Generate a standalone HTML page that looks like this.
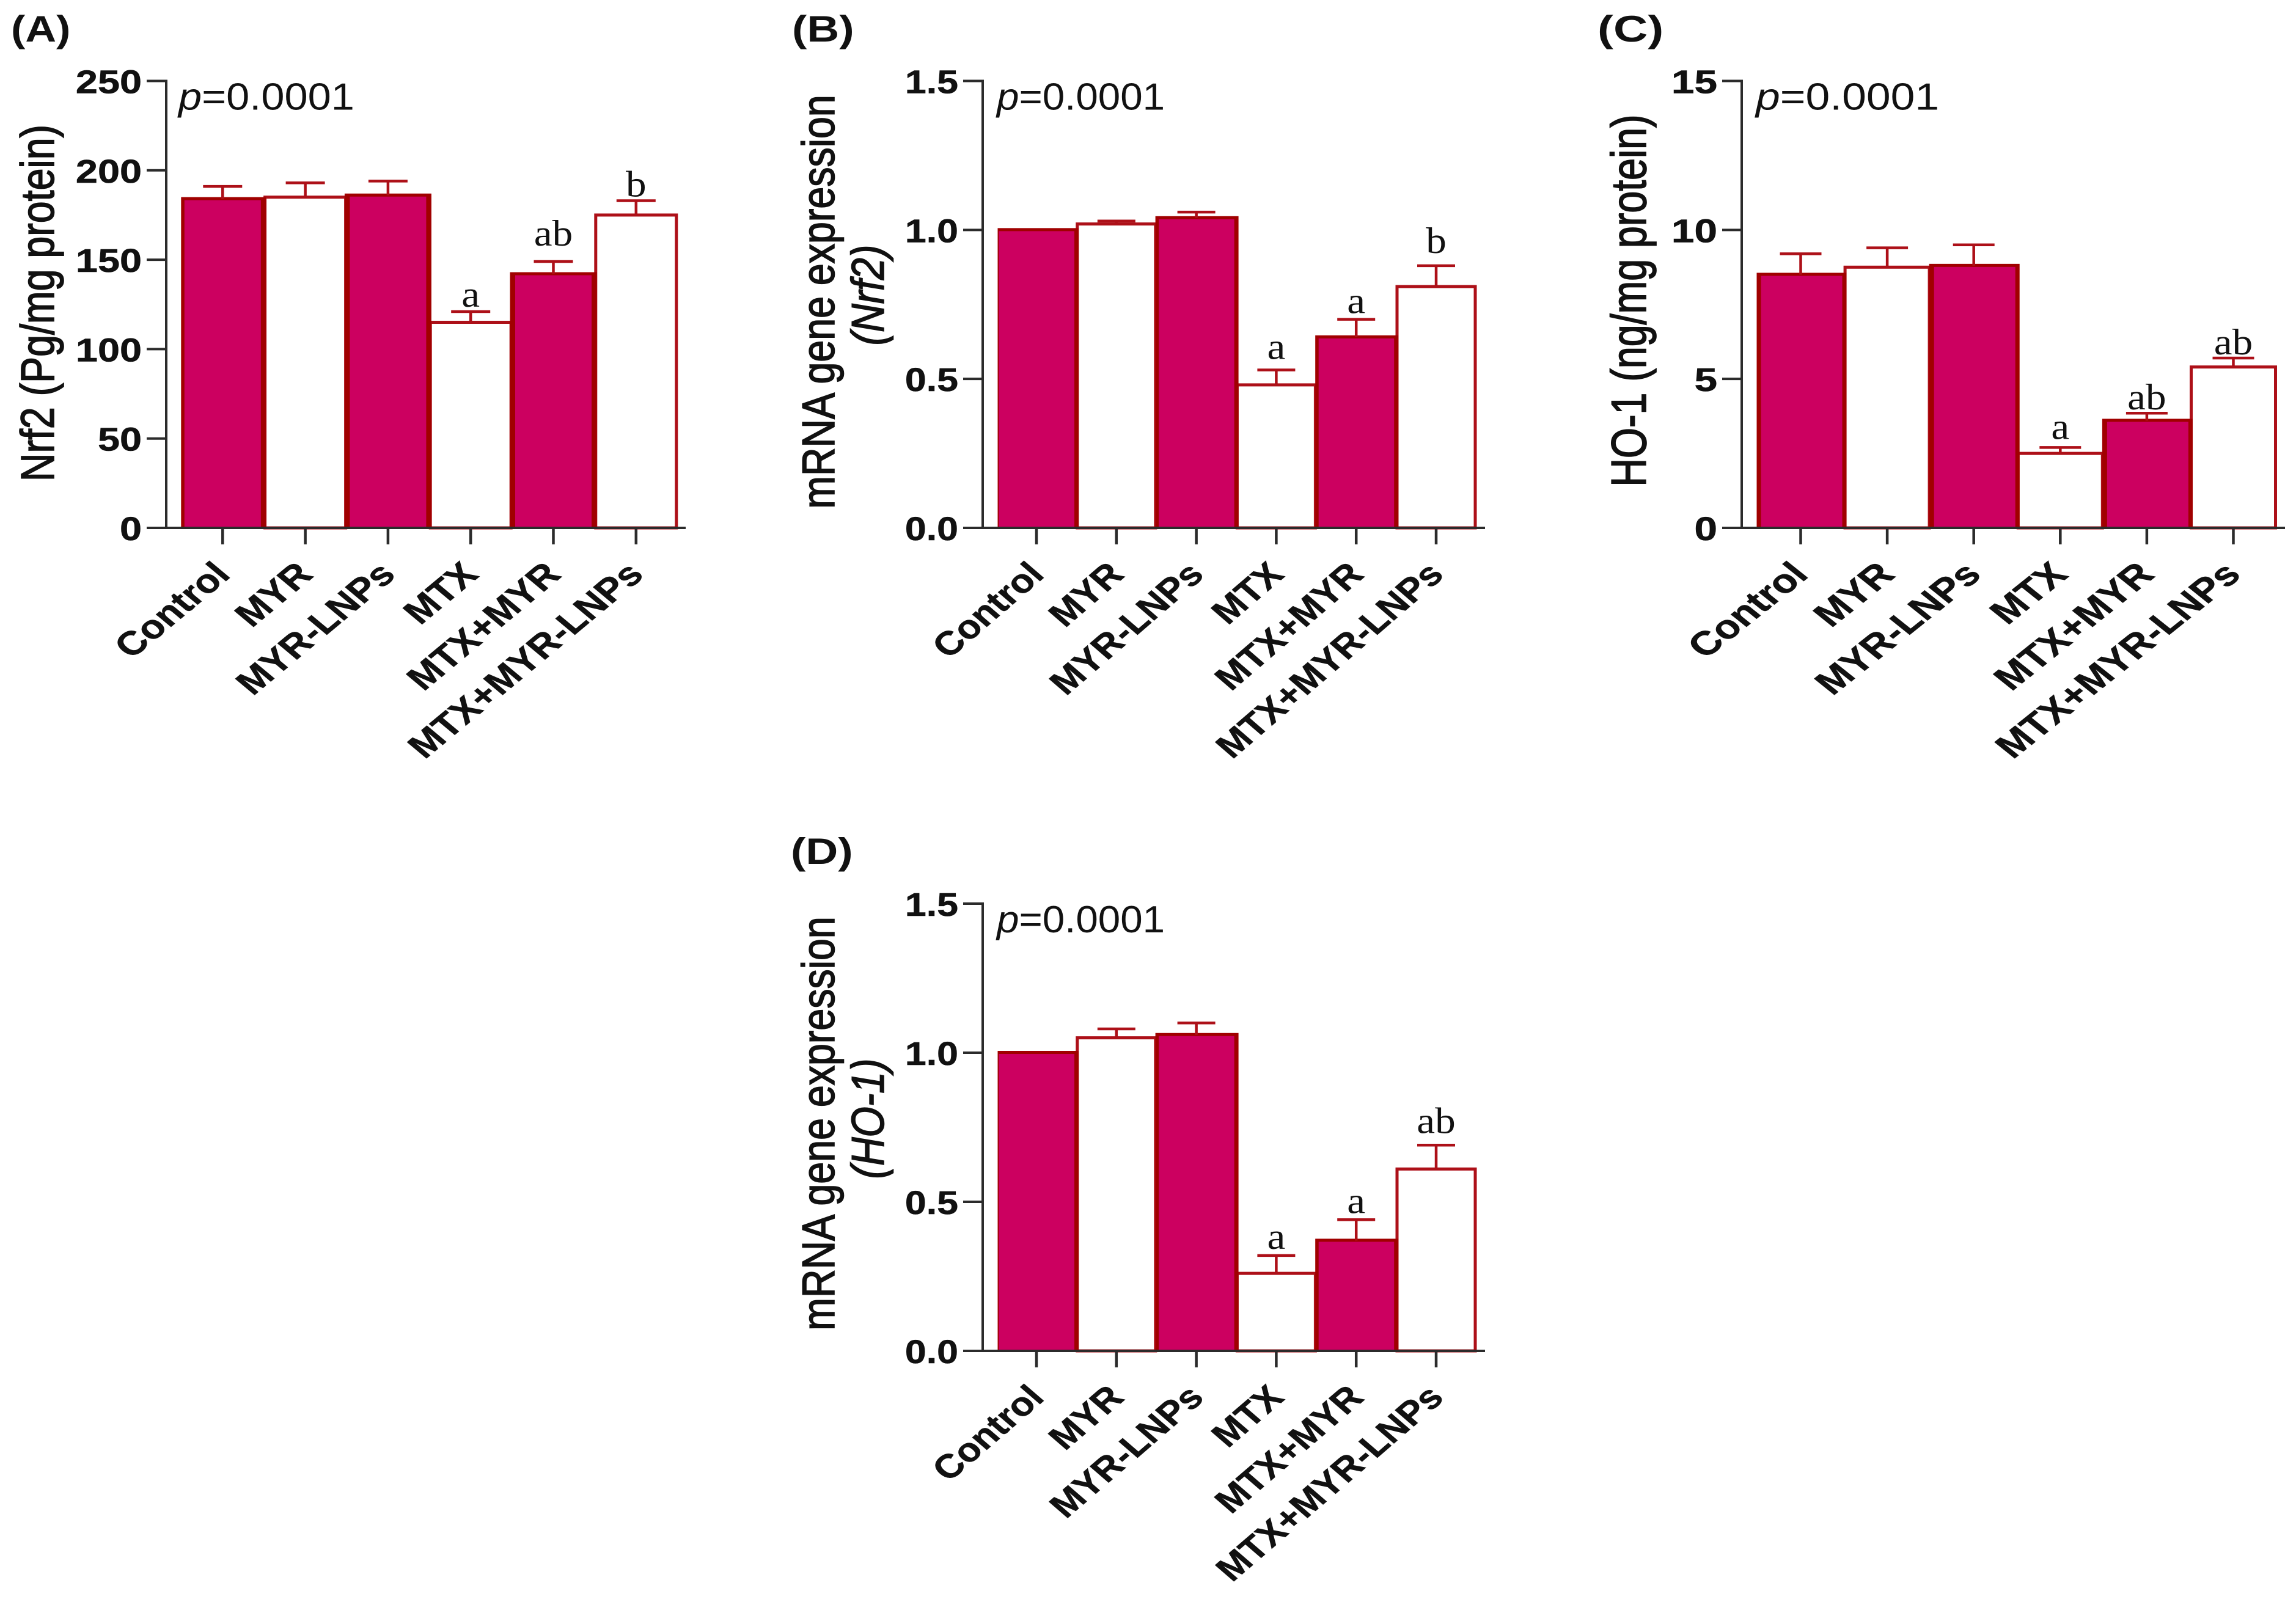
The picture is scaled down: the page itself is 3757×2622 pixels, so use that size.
<!DOCTYPE html>
<html lang="en">
<head>
<meta charset="utf-8">
<title>Nrf2 and HO-1 bar charts</title>
<style>
  html, body { margin: 0; padding: 0; background: #fff; }
  svg { display: block; }
  text { font-family: "Liberation Sans", Arial, sans-serif; fill: #111; }
</style>
</head>
<body>
<svg id="figure" xmlns="http://www.w3.org/2000/svg" width="3757" height="2622" viewBox="0 0 3757 2622"></svg>
<script>
const categories = ["Control", "MYR", "MYR-LNPs", "MTX", "MTX+MYR", "MTX+MYR-LNPs"];

const panelATicks = ["0", "50", "100", "150", "200", "250"];
const panelAValues = [184, 185, 186, 115, 142, 175];
const panelAErrors = [7, 8, 8, 6, 7, 8];
const panelALetters = ["", "", "", "a", "ab", "b"];

const panelBTicks = ["0.0", "0.5", "1.0", "1.5"];
const panelBValues = [1.0, 1.02, 1.04, 0.48, 0.64, 0.81];
const panelBErrors = [0, 0.01, 0.02, 0.05, 0.06, 0.07];
const panelBLetters = ["", "", "", "a", "a", "b"];

const panelCTicks = ["0", "5", "10", "15"];
const panelCValues = [8.5, 8.75, 8.8, 2.5, 3.6, 5.4];
const panelCErrors = [0.7, 0.65, 0.7, 0.2, 0.25, 0.3];
const panelCLetters = ["", "", "", "a", "ab", "ab"];

const panelDTicks = ["0.0", "0.5", "1.0", "1.5"];
const panelDValues = [1.0, 1.05, 1.06, 0.26, 0.37, 0.61];
const panelDErrors = [0, 0.03, 0.04, 0.06, 0.07, 0.08];
const panelDLetters = ["", "", "", "a", "a", "ab"];

const SVG_NS = "http://www.w3.org/2000/svg";
const root = document.getElementById("figure");

function mk(parent, tag, attrs, txt) {
  const node = document.createElementNS(SVG_NS, tag);
  for (const key in attrs) node.setAttribute(key, attrs[key]);
  if (txt !== undefined) node.textContent = txt;
  parent.appendChild(node);
  return node;
}

const panels = [
  { key: "a", tag: "(A)", ticks: panelATicks, values: panelAValues, errors: panelAErrors, letters: panelALetters,
    title: [{ text: "Nrf2 (Pg/mg protein)", x: 88, y: 496, italic: false }],
    axisX: 272, top: 132.5, base: 864, xEnd: 1122, first: 364.3, slot: 135.3, sx: 1.2,
    labelX: 18, labelY: 68, labelSx: 1.17, pX: 292, pSx: 1.106, hw: 66, first0: 68, dL: 71, dR: 71, iL: 62.5, iR: 62.5, capHalf: 32,
    letterGaps: [0, 0, 0, 8, 26, 7] },
  { key: "b", tag: "(B)", ticks: panelBTicks, values: panelBValues, errors: panelBErrors, letters: panelBLetters,
    title: [{ text: "mRNA gene expression", x: 1365, y: 494, italic: false }, { text: "(Nrf2)", x: 1446, y: 483, italic: true }],
    axisX: 1608, top: 132.5, base: 864, xEnd: 2430, first: 1696, slot: 130.8, sx: 1.16,
    labelX: 1296, labelY: 68, labelSx: 1.22, pX: 1631, pSx: 1.057, hw: 64, first0: 63.5, dL: 67, dR: 69, iL: 61.5, iR: 62, capHalf: 31,
    letterGaps: [0, 0, 0, 18, 10, 21] },
  { key: "c", tag: "(C)", ticks: panelCTicks, values: panelCValues, errors: panelCErrors, letters: panelCLetters,
    title: [{ text: "HO-1 (ng/mg protein)", x: 2693, y: 492, italic: false }],
    axisX: 2850, top: 132.5, base: 864, xEnd: 3739, first: 2946.5, slot: 141.6, sx: 1.25,
    labelX: 2614, labelY: 68, labelSx: 1.3, pX: 2873, pSx: 1.153, hw: 69, first0: 72, dL: 73, dR: 75, iL: 65, iR: 68, capHalf: 34,
    letterGaps: [0, 0, 0, 14, 6, 6] },
  { key: "d", tag: "(D)", ticks: panelDTicks, values: panelDValues, errors: panelDErrors, letters: panelDLetters,
    title: [{ text: "mRNA gene expression", x: 1365, y: 1839, italic: false }, { text: "(HO-1)", x: 1446, y: 1831, italic: true }],
    axisX: 1608, top: 1479, base: 2211, xEnd: 2430, first: 1696, slot: 130.8, sx: 1.16,
    labelX: 1294, labelY: 1414, labelSx: 1.22, pX: 1631, pSx: 1.057, hw: 64, first0: 63.5, dL: 67, dR: 69, iL: 61.5, iR: 62, capHalf: 31,
    letterGaps: [0, 0, 0, 11, 11, 20] }
];

const PINK = "#cc0060";
const DARK = "#a00000";
const LINE = "#ad1018";
const AXIS = "#2b2b2b";

panels.forEach(function (p) {
  const yMax = parseFloat(p.ticks[p.ticks.length - 1]);
  const yScale = function (v) { return p.base - (v / yMax) * (p.base - p.top); };
  const xScale = function (i) { return p.first + i * p.slot; };

  const g = mk(root, "g", {});
  
  

  const tagText = mk(g, "text", { transform: "translate(" + p.labelX + "," + p.labelY + ") scale(" + p.labelSx + ",1)", "font-size": 60, "font-weight": "bold" }, p.tag);
  
  

  p.title.forEach(function (t, idx) {
    const titleNode = mk(g, "text", {
      transform: "translate(" + t.x + "," + t.y + ") scale(" + p.sx + ",1) rotate(-90)",
      "font-size": 64.5, "text-anchor": "middle", "font-style": t.italic ? "italic" : "normal",
      stroke: "#111", "stroke-width": 1.4
    }, t.text);
    
    
  });

  // white bars first, then filled bars overlap the shared edges
  const order = [1, 3, 5, 0, 2, 4];
  order.forEach(function (i) {
    const cx = xScale(i);
    const y = yScale(p.values[i]);
    const filled = i % 2 === 0;
    if (filled) {
      const leftReach = i === 0 ? p.first0 : p.dL;
      const outer = mk(g, "rect", { x: cx - leftReach, y: y - 3, width: leftReach + p.dR, height: p.base - y + 3, fill: DARK });
      
      
      const inner = mk(g, "rect", { x: cx - p.iL, y: y + 2, width: p.iL + p.iR, height: p.base - y - 2, fill: PINK });
      
      
    } else {
      const bar = mk(g, "rect", { x: cx - p.hw, y: y, width: 2 * p.hw, height: p.base - y, fill: "#fff", stroke: LINE, "stroke-width": 5 });
      
      
    }
    const err = p.errors[i];
    if (err > 0) {
      const capY = yScale(p.values[i] + err);
      const stem = mk(g, "line", { x1: cx, x2: cx, y1: y, y2: capY, stroke: LINE, "stroke-width": 4.5 });
      
      
      const cap = mk(g, "line", { x1: cx - p.capHalf, x2: cx + p.capHalf, y1: capY, y2: capY, stroke: LINE, "stroke-width": 4.5 });
      
      
    }
    if (p.letters[i]) {
      const capTop = yScale(p.values[i] + err);
      const letter = mk(g, "text", {
        transform: "translate(" + cx + "," + (capTop - p.letterGaps[i]) + ") scale(1.12,1)",
        "font-size": 60, "text-anchor": "middle", style: "font-family:'Liberation Serif',serif"
      }, p.letters[i]);
      
      
    }
  });

  const yAxis = mk(g, "line", { x1: p.axisX, x2: p.axisX, y1: p.top - 2, y2: p.base + 2, stroke: AXIS, "stroke-width": 4 });
  
  
  const xAxis = mk(g, "line", { x1: p.axisX - 32, x2: p.xEnd, y1: p.base, y2: p.base, stroke: AXIS, "stroke-width": 4 });
  
  

  p.ticks.forEach(function (label) {
    const ty = yScale(parseFloat(label));
    const tick = mk(g, "line", { x1: p.axisX - 32, x2: p.axisX, y1: ty, y2: ty, stroke: AXIS, "stroke-width": 4 });
    
    
    const tl = mk(g, "text", {
      transform: "translate(" + (p.axisX - 40) + "," + (ty + 20) + ") scale(" + p.sx + ",1)",
      "font-size": 54, "font-weight": "bold", "text-anchor": "end", stroke: "#111", "stroke-width": 0.6
    }, label);
    
    
  });

  categories.forEach(function (name, i) {
    const cx = xScale(i);
    const tick = mk(g, "line", { x1: cx, x2: cx, y1: p.base, y2: p.base + 27, stroke: AXIS, "stroke-width": 4.5 });
    
    
    const cl = mk(g, "text", {
      transform: "translate(" + (cx + 15) + "," + (p.base + 79) + ") scale(" + p.sx + ",1) rotate(-45)",
      "font-size": 54.5, "font-weight": "bold", "text-anchor": "end", stroke: "#111", "stroke-width": 0.6
    }, name);
    
    
  });

  const pText = mk(g, "text", {
    transform: "translate(" + p.pX + "," + (p.top + 47) + ") scale(" + p.pSx + ",1)",
    "font-size": 62
  });
  
  
  mk(pText, "tspan", { "font-style": "italic" }, "p");
  mk(pText, "tspan", {}, "=0.0001");
});
</script>
</body>
</html>
